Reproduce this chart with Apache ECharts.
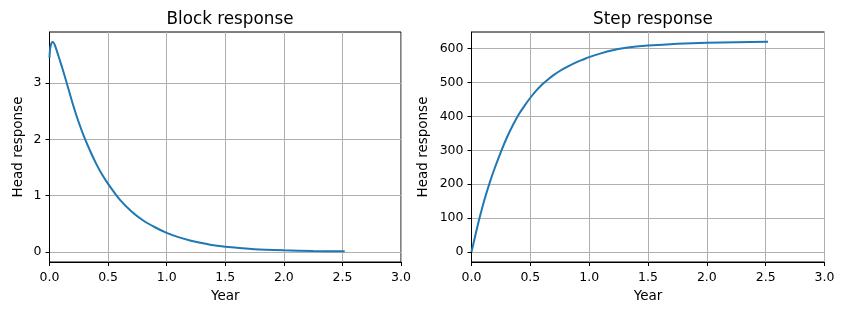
<!DOCTYPE html>
<html>
<head>
<meta charset="utf-8">
<title>Block and step response</title>
<script src="https://cdn.jsdelivr.net/npm/echarts@6/dist/echarts.min.js"></script>
<style>
  html, body { margin: 0; padding: 0; background: #fff; }
  #chart { width: 844px; height: 315px; }
</style>
</head>
<body>
<div id="chart"></div>
<script>
// values (time in years)
var blockTime = [0, 0.005, 0.015, 0.027, 0.04, 0.055, 0.084, 0.113, 0.15, 0.2, 0.25, 0.3, 0.35, 0.4, 0.45, 0.5,
  0.6, 0.7, 0.8, 0.9, 1.0, 1.1, 1.2, 1.3, 1.4, 1.5, 1.75, 2.0, 2.25, 2.52];
var blockValues = [3.45, 3.6, 3.7, 3.73, 3.7, 3.62, 3.43, 3.24, 2.98, 2.62, 2.3, 2.02, 1.78, 1.56, 1.37, 1.21,
  0.93, 0.72, 0.56, 0.44, 0.34, 0.265, 0.205, 0.16, 0.12, 0.094, 0.05, 0.03, 0.019, 0.013];

var stepTime = [0, 0.03, 0.066, 0.11, 0.157, 0.2, 0.255, 0.3, 0.35, 0.4, 0.45, 0.5, 0.55, 0.6, 0.65, 0.7,
  0.75, 0.8, 0.85, 0.9, 0.95, 1.0, 1.1, 1.2, 1.3, 1.4, 1.5, 1.75, 2.0, 2.25, 2.52];
var stepValues = [0, 45, 97, 154, 207, 250, 300, 337, 373, 405, 431, 455, 476, 494, 509, 522.5,
  534, 544, 553, 561, 568, 575, 586, 595, 601.5, 606, 609, 614, 617, 619, 620];

var xTicks = [0, 0.5, 1, 1.5, 2, 2.5, 3];
var blockTicks = [0, 1, 2, 3];
var stepTicks = [0, 100, 200, 300, 400, 500, 600];

function pairs(xs, ys) {
  return xs.map(function (x, i) { return [x, ys[i]]; });
}

var font = 'DejaVu Sans';
var gridColor = '#b0b0b0';

function xAxisFor(idx) {
  return {
    type: 'value', gridIndex: idx, min: 0, max: 3, interval: 0.5,
    name: 'Year', nameLocation: 'middle', nameGap: 27,
    nameTextStyle: { fontFamily: font, fontSize: 13.5, color: '#000' },
    axisLine: { show: true, onZero: false, lineStyle: { color: '#000', width: 1 } },
    axisTick: { show: true, inside: false, length: 4, customValues: xTicks,
      lineStyle: { color: '#000', width: 1 } },
    axisLabel: { margin: 9, fontFamily: font, fontSize: 12.5, color: '#000', customValues: xTicks,
      formatter: function (v) { return v.toFixed(1); } },
    splitLine: { show: true, lineStyle: { color: gridColor, width: 1 } }
  };
}

function yAxisFor(idx, min, max, ticks, gap) {
  return {
    type: 'value', gridIndex: idx, min: min, max: max,
    name: 'Head response', nameLocation: 'middle', nameGap: gap, nameRotate: 90,
    nameTextStyle: { fontFamily: font, fontSize: 13.5, color: '#000' },
    axisLine: { show: true, onZero: false, lineStyle: { color: '#000', width: 1 } },
    axisTick: { show: true, inside: false, length: 4, customValues: ticks,
      lineStyle: { color: '#000', width: 1 } },
    axisLabel: { margin: 8, fontFamily: font, fontSize: 12.5, color: '#000', customValues: ticks },
    splitLine: { show: true, lineStyle: { color: gridColor, width: 1 } }
  };
}

var lineStyle = { color: '#1f77b4', width: 2 };

var chart = echarts.init(document.getElementById('chart'), null, { renderer: 'canvas' });
chart.setOption({
  animation: false,
  backgroundColor: '#fff',
  title: [
    { text: 'Block response', left: 225, top: 6, textAlign: 'center',
      textStyle: { fontFamily: font, fontSize: 16.8, fontWeight: 'normal', color: '#000' } },
    { text: 'Step response', left: 648, top: 6, textAlign: 'center',
      textStyle: { fontFamily: font, fontSize: 16.8, fontWeight: 'normal', color: '#000' } }
  ],
  grid: [
    { left: 49.5, top: 32, width: 351.5, height: 230, show: true, borderColor: '#000', borderWidth: 1 },
    { left: 471.5, top: 32, width: 353, height: 230, show: true, borderColor: '#000', borderWidth: 1 }
  ],
  xAxis: [xAxisFor(0), xAxisFor(1)],
  yAxis: [
    yAxisFor(0, -0.177, 3.906, blockTicks, 24),
    yAxisFor(1, -29.5, 649, stepTicks, 41)
  ],
  series: [
    { type: 'line', xAxisIndex: 0, yAxisIndex: 0, data: pairs(blockTime, blockValues),
      showSymbol: false, smooth: 0.25, lineStyle: lineStyle },
    { type: 'line', xAxisIndex: 1, yAxisIndex: 1, data: pairs(stepTime, stepValues),
      showSymbol: false, smooth: 0.25, lineStyle: lineStyle }
  ]
});
</script>
</body>
</html>
